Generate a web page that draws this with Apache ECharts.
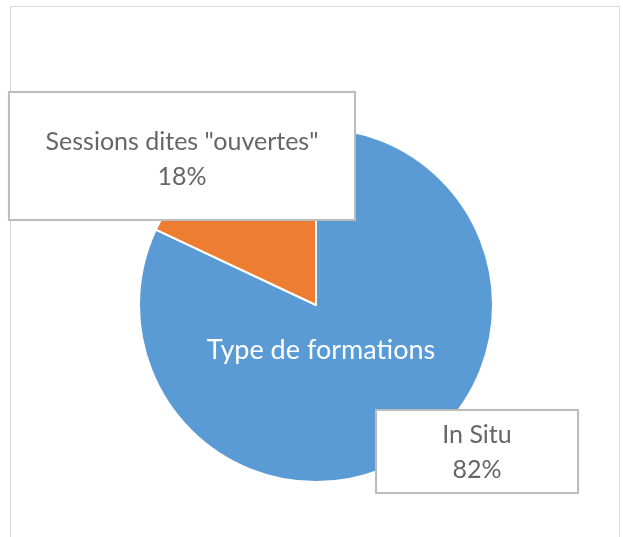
<!DOCTYPE html>
<html>
<head>
<meta charset="utf-8">
<script src="https://cdn.jsdelivr.net/npm/echarts@6/dist/echarts.min.js"></script>
<style>
  html, body { margin: 0; padding: 0; background: #fff; }
  #chart { width: 623px; height: 537px; }
</style>
</head>
<body>
<div id="chart"></div>
<script>
// data
var seriesName = "Type de formations";
var categories = ["In Situ", "Sessions dites \"ouvertes\""];
var values = [82, 18];
var colors = ["#5B9BD5", "#ED7D31"];

var FONT = "Lato";

// label boxes: top centre of each box
var labelSpots = [
  { x: 477, y: 411, width: 150, pad: [6, 25, 5, 25] },
  { x: 182, y: 93, width: 280, pad: [31, 32, 25, 32] }
];

var chart = echarts.init(document.getElementById("chart"));

var pieData = categories.map(function (name, i) {
  return {
    name: name,
    value: values[i],
    itemStyle: { color: colors[i] },
    label: {
      width: labelSpots[i].width,
      padding: labelSpots[i].pad
    }
  };
});

chart.setOption({
  backgroundColor: "#fff",
  animation: false,
  title: {
    text: seriesName,
    left: 316,
    top: 345,
    textAlign: "center",
    textVerticalAlign: "middle",
    textStyle: {
      color: "#fff",
      fontFamily: FONT,
      fontWeight: "normal",
      fontSize: 27
    }
  },
  graphic: [
    {
      type: "rect",
      shape: { x: 10.5, y: 6.5, width: 609, height: 560 },
      style: { fill: "none", stroke: "#d9d9d9", lineWidth: 1 },
      silent: true
    }
  ],
  series: [
    {
      name: seriesName,
      type: "pie",
      center: [316, 305],
      radius: 177,
      startAngle: 90,
      clockwise: true,
      itemStyle: { borderColor: "#fff", borderWidth: 2 },
      labelLine: { show: false },
      label: {
        show: true,
        position: "outside",
        formatter: function (p) {
          return p.name + "\n" + Math.round(p.percent) + "%";
        },
        color: "#666666",
        fontFamily: FONT,
        fontSize: 25,
        lineHeight: 35,
        align: "center",
        backgroundColor: "#fff",
        borderColor: "#bfbfbf",
        borderWidth: 2,
        shadowColor: "rgba(0,0,0,0.08)",
        shadowBlur: 2
      },
      labelLayout: function (params) {
        var s = labelSpots[params.dataIndex];
        return { x: s.x, y: s.y, align: "center", verticalAlign: "top", hideOverlap: false };
      },
      data: pieData
    }
  ]
});
</script>
</body>
</html>
